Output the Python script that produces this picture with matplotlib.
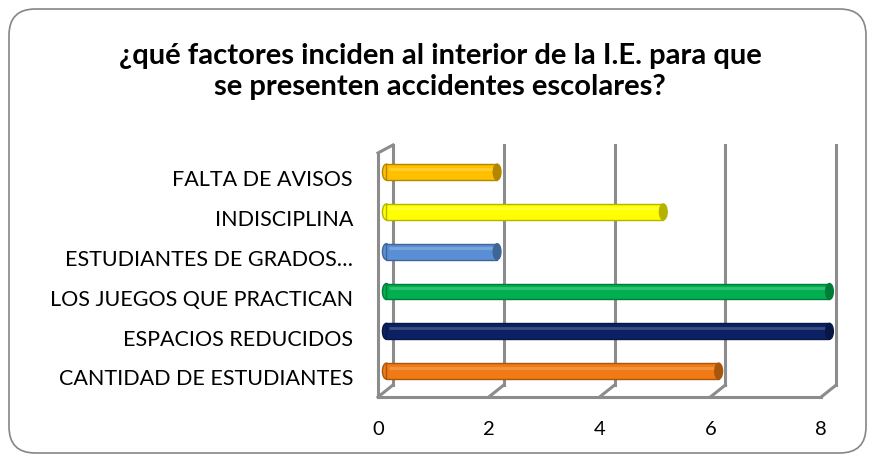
import matplotlib.pyplot as plt
import matplotlib.colors as mcolors
from matplotlib.patches import FancyBboxPatch, Ellipse
import numpy as np

plt.rcParams['font.family'] = ['Lato', 'DejaVu Sans']

categories = ["CANTIDAD DE ESTUDIANTES", "ESPACIOS REDUCIDOS",
              "LOS JUEGOS QUE PRACTICAN", "ESTUDIANTES DE GRADOS…",
              "INDISCIPLINA", "FALTA DE AVISOS"]
values = [6, 8, 8, 2, 5, 2]
colors = ["#F07A14", "#0B2163", "#00B050", "#5A8FD6", "#FFFF00", "#FFC000"]
xticks = [0, 2, 4, 6, 8]
title = "¿qué factores inciden al interior de la I.E. para que\nse presenten accidentes escolares?"

W, H = 875, 462
fig = plt.figure(figsize=(W / 100, H / 100), dpi=100)

# rounded outer frame
fig.patches.append(FancyBboxPatch((9 / W, 9 / H), (W - 18) / W, (H - 18) / H,
                                  boxstyle="round,pad=0,rounding_size=0.03",
                                  transform=fig.transFigure, fill=False,
                                  ec="#868686", lw=1.2, mutation_aspect=W / H,
                                  zorder=-1))

ax = fig.add_axes([378 / W, (H - 397) / H, (835 - 378) / W, (397 - 145) / H])
ybot, ytop = -0.65, 5.68
ax.set_xlim(0, 8.25)
ax.set_ylim(ybot, ytop)
ax.patch.set_alpha(0)
for s in ax.spines.values():
    s.set_visible(False)

gray = "#8C8C8C"
dx, dy = 0.27, 0.3
lk = dict(color=gray, lw=2.2, zorder=1, clip_on=False, solid_capstyle="projecting")
# back-wall gridlines and floor ticks
for t in xticks:
    ax.plot([t + dx, t + dx], [ybot + dy, ytop], **lk)
    ax.plot([t, t + dx], [ybot, ybot + dy], **lk)
# front floor edge and left wall
ax.plot([0, 8], [ybot, ybot], **lk)
ax.plot([0, 0], [ybot, ytop - 0.2], **lk)
ax.plot([0, dx], [ytop - 0.2, ytop], **lk)

y = np.arange(len(categories))
off = 0.15
bh = 0.4
for yi, v, c in zip(y, values, colors):
    dark = np.array(mcolors.to_rgb(c)) * 0.7
    ax.barh(yi, v, left=off, height=bh, color=c, edgecolor=dark, lw=1, zorder=3)
    light = np.clip(np.array(mcolors.to_rgb(c)) * 0.6 + 0.4, 0, 1)
    ax.plot([off + 0.05, off + v - 0.05], [yi + bh * 0.22] * 2, color=light,
            lw=2, alpha=0.5, zorder=4, solid_capstyle="butt")
    ax.add_patch(Ellipse((off, yi), 0.14, bh, fc=c, ec=dark, lw=1, zorder=2))
    ax.add_patch(Ellipse((off + v, yi), 0.14, bh, fc=dark, ec=dark, lw=1, zorder=4))

ax.set_yticks(y - 0.16)
ax.set_yticklabels(categories, fontsize=15.5)
ax.tick_params(axis="y", length=0, pad=18)
ax.set_xticks(xticks)
ax.set_xticklabels([str(t) for t in xticks], fontsize=14.5)
ax.tick_params(axis="x", length=0, pad=17)

fig.text(0.503, 0.845, title, ha="center", va="center", fontsize=21,
         fontweight="bold", linespacing=1.25)

fig.savefig("out.png", dpi=100)
